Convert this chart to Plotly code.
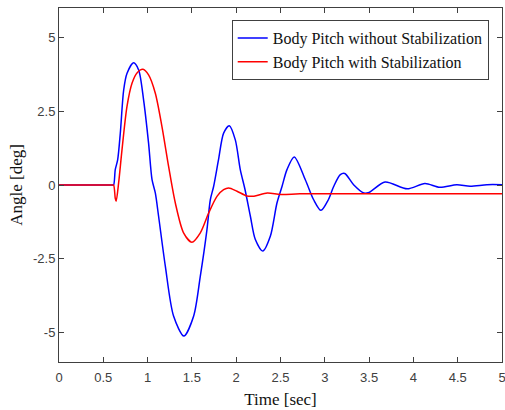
import plotly.graph_objects as go

# Time samples (sec) and body pitch angles (deg)
t_without = [0.0, 0.3, 0.6, 0.616, 0.635, 0.662, 0.692, 0.73, 0.767, 0.842, 0.899, 0.955,
             1.011, 1.05, 1.087, 1.124, 1.2, 1.293, 1.41, 1.52, 1.595, 1.67, 1.708,
             1.745, 1.80, 1.858, 1.922, 1.99, 2.046, 2.10, 2.16, 2.216, 2.30, 2.385,
             2.46, 2.517, 2.573, 2.655, 2.78, 2.874, 2.957, 3.04, 3.10, 3.175, 3.225,
             3.325, 3.44, 3.5, 3.68, 3.93, 4.13, 4.30, 4.49, 4.64, 4.83, 5.0]
pitch_without = [0.0, 0.0, 0.0, 0.0, 0.52, 0.85, 1.76, 3.22, 3.78, 4.14, 3.9, 2.88,
                 1.42, 0.18, -0.27, -1.06, -2.75, -4.44, -5.12, -4.44, -3.09, -1.51, -0.5,
                 -0.05, 0.85, 1.76, 2.01, 1.53, 0.52, -0.16, -1.06, -1.85, -2.24, -1.74,
                 -0.61, -0.05, 0.52, 0.95, 0.18, -0.5, -0.86, -0.5, -0.05, 0.35, 0.39,
                 0.01, -0.27, -0.25, 0.10, -0.13, 0.05, -0.08, 0.01, -0.04, 0.01, 0.01]

t_with = [0.0, 0.3, 0.6, 0.616, 0.635, 0.645, 0.673, 0.711, 0.767, 0.824, 0.88, 0.948,
          1.011, 1.087, 1.162, 1.237, 1.313, 1.406, 1.50, 1.595, 1.689, 1.783,
          1.858, 1.915, 2.009, 2.12, 2.20, 2.35, 2.50, 2.72, 3.2, 3.8, 4.4, 5.0]
pitch_with = [0.0, 0.0, 0.0, 0.0, -0.45, -0.55, 0.07, 1.19, 2.66, 3.45, 3.80, 3.92,
              3.73, 3.11, 1.98, 0.63, -0.61, -1.62, -1.94, -1.62, -0.95, -0.385,
              -0.16, -0.10, -0.21, -0.37, -0.38, -0.27, -0.32, -0.30, -0.30, -0.30, -0.30, -0.30]

x_ticks = [0, 0.5, 1, 1.5, 2, 2.5, 3, 3.5, 4, 4.5, 5]
x_tick_text = ["0", "0.5", "1", "1.5", "2", "2.5", "3", "3.5", "4", "4.5", "5"]
y_ticks = [-5, -2.5, 0, 2.5, 5]
y_tick_text = ["-5", "-2.5", "0", "2.5", "5"]

fig = go.Figure()
fig.add_trace(go.Scatter(x=t_without, y=pitch_without, mode="lines",
                         name="Body Pitch without Stabilization",
                         line=dict(color="#0000ff", width=1.5, shape="spline", smoothing=0.8)))
fig.add_trace(go.Scatter(x=t_with, y=pitch_with, mode="lines",
                         name="Body Pitch with Stabilization",
                         line=dict(color="#ff0000", width=1.5, shape="spline", smoothing=0.8)))

axis_common = dict(showline=True, linecolor="#404040", linewidth=1, mirror="ticks",
                   ticks="inside", ticklen=5, tickcolor="#404040", showgrid=False,
                   zeroline=False, automargin=False, ticklabeloverflow="allow",
                   tickfont=dict(family="Liberation Sans, Arial, sans-serif", size=13, color="#404040"))

fig.update_layout(
    width=505, height=410,
    margin=dict(l=59, r=3, t=8, b=48, autoexpand=False),
    paper_bgcolor="white", plot_bgcolor="white",
    showlegend=True,
    legend=dict(x=0.97, y=0.966, xanchor="right", yanchor="top",
                bgcolor="white", bordercolor="#404040", borderwidth=1,
                font=dict(family="Liberation Serif, Times New Roman, serif", size=16, color="#111111"),
                tracegroupgap=0, itemwidth=30),
    xaxis=dict(range=[0, 5], tickvals=x_ticks, ticktext=x_tick_text, ticklabelstandoff=3,
               title=dict(text="Time [sec]", standoff=9,
                          font=dict(family="Liberation Serif, Times New Roman, serif", size=17, color="#111111")),
               **axis_common),
    yaxis=dict(range=[-6, 6], tickvals=y_ticks, ticktext=y_tick_text,
               title=dict(text="Angle [deg]", standoff=6,
                          font=dict(family="Liberation Serif, Times New Roman, serif", size=17, color="#111111")),
               **axis_common),
)

fig.write_html("out.html", config={"displayModeBar": False},
               post_script="document.body.style.margin='0';")
